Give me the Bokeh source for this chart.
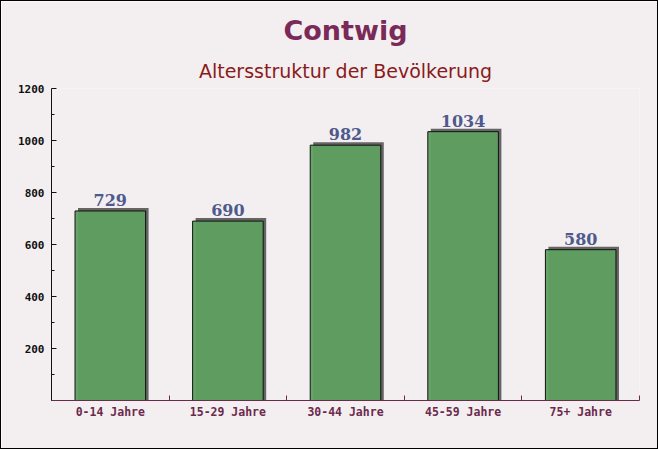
from bokeh.plotting import figure
from bokeh.models import FixedTicker, Title, ColumnDataSource, Range1d
from bokeh.core.properties import value
from bokeh.embed import file_html
from bokeh.resources import INLINE

categories = ["0-14 Jahre", "15-29 Jahre", "30-44 Jahre", "45-59 Jahre", "75+ Jahre"]
values = [729, 690, 982, 1034, 580]
y_ticks = [200, 400, 600, 800, 1000, 1200]
y_minor = [100, 300, 500, 700, 900, 1100]

BG = "#f3eff1"
W, H = 658, 449
p = figure(width=W, height=H, output_backend="svg", toolbar_location=None,
           x_range=Range1d(0, len(categories)), y_range=Range1d(0, 1200),
           min_border_left=50, min_border_right=20, min_border_bottom=50, min_border_top=10)
p.background_fill_color = BG
p.border_fill_color = BG
p.outline_line_color = None
p.grid.visible = False
p.styles = {"border": "1px solid black"}

sub = Title(text="Altersstruktur der Bevölkerung", align="center", text_font="DejaVu Sans",
            text_font_size="19px", text_font_style="normal", text_color="#8b1a1a", standoff=13)
main = Title(text="Contwig", align="center", text_font="DejaVu Sans",
             text_font_size="27px", text_font_style="bold", text_color="#7a2a58", standoff=12)
spacer = Title(text=" ", align="center", text_font_size="1px", standoff=2)
p.add_layout(sub, "above")
p.add_layout(main, "above")
p.add_layout(spacer, "above")

xs = [i + 0.5 for i in range(len(categories))]
bw = 0.6
dx = 3 / (588 / 5)
dy = 3 / (312 / 1200)
src = ColumnDataSource(dict(
    x=xs, v=values, lab=[str(v) for v in values],
    l=[x - bw / 2 for x in xs], r=[x + bw / 2 for x in xs],
    sl=[x - bw / 2 + dx for x in xs], sr=[x + bw / 2 + dx for x in xs],
    st=[v + dy for v in values], zero=[0] * len(values)))

p.quad(left="sl", right="sr", bottom="zero", top="st", source=src,
       fill_color="#555555", fill_alpha=0.9, line_color=None)
p.quad(left="l", right="r", bottom="zero", top="v", source=src,
       fill_color="#5e9f60", fill_alpha=0.95, line_color="#111111", line_width=1)
p.text(x="x", y="st", text="lab", source=src, text_align="center", text_baseline="bottom",
       y_offset=-2, text_font=value("DejaVu Serif"), text_font_style="bold",
       text_font_size="16px", text_color="#4f5a8c")

ya = p.yaxis[0]
ya.ticker = FixedTicker(ticks=y_ticks, minor_ticks=y_minor)
ya.axis_line_color = "#111111"
ya.major_tick_in = 5
ya.major_tick_out = 0
ya.minor_tick_in = 3
ya.minor_tick_out = 0
ya.major_tick_line_color = "#111111"
ya.minor_tick_line_color = "#111111"
ya.major_label_text_font = "DejaVu Sans Mono"
ya.major_label_text_font_style = "bold"
ya.major_label_text_font_size = "11px"
ya.major_label_text_color = "#111111"
ya.major_label_standoff = 7

xa = p.xaxis[0]
xa.ticker = FixedTicker(ticks=xs, minor_ticks=list(range(len(categories) + 1)))
xa.major_label_overrides = {x: c for x, c in zip(xs, categories)}
xa.axis_line_color = "#6b2a4c"
xa.major_tick_in = 0
xa.major_tick_out = 0
xa.minor_tick_in = 5
xa.minor_tick_out = 0
xa.minor_tick_line_color = "#6b2a4c"
xa.major_label_text_font = "DejaVu Sans Mono"
xa.major_label_text_font_style = "bold"
xa.major_label_text_font_size = "11.5px"
xa.major_label_text_color = "#6b2a4c"
xa.major_label_standoff = 4

open("out.html", "w").write(file_html(p, INLINE))
